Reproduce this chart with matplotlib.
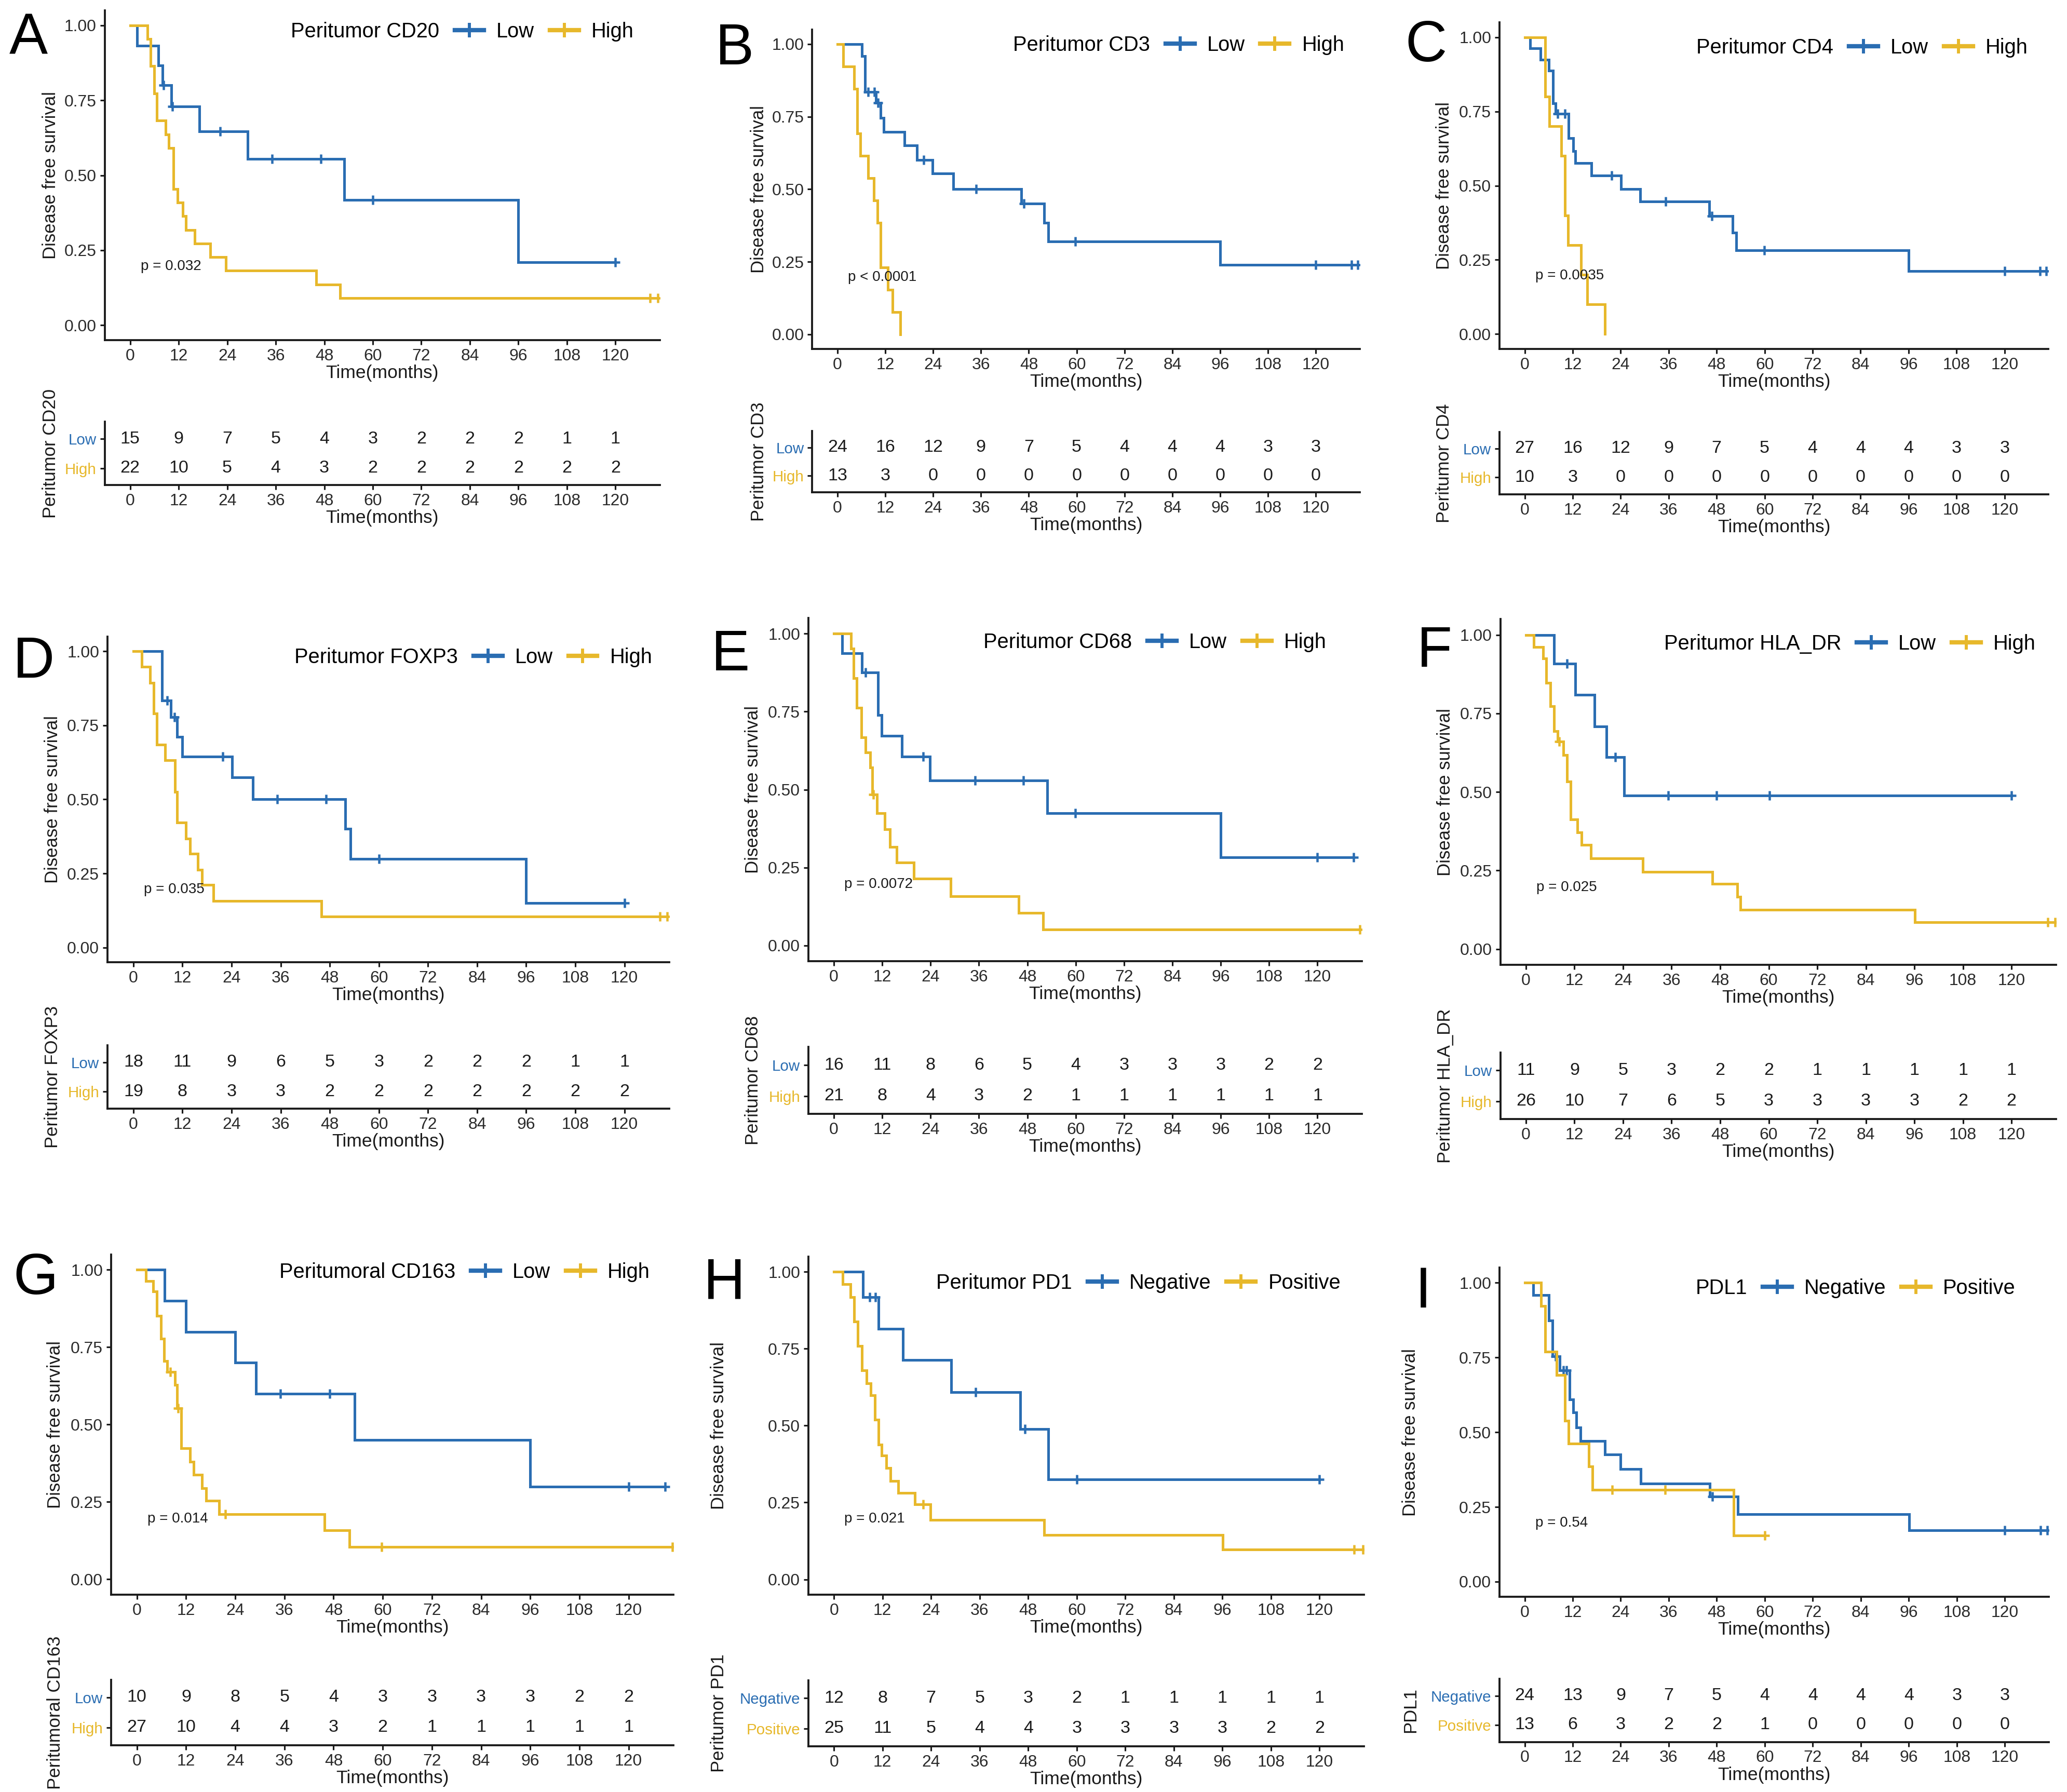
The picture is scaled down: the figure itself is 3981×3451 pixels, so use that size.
import numpy as np
import matplotlib.pyplot as plt
from matplotlib.lines import Line2D

plt.rcParams['font.family'] = ['Liberation Sans', 'DejaVu Sans']

BLUE = "#2A6DB2"
YELLOW = "#E7B82B"
INK = "#1a1a1a"

months = [0, 12, 24, 36, 48, 60, 72, 84, 96, 108, 120]

# ---- data: drop times, survival after drop, censor times, numbers at risk ----
A_low_t = [1.7, 7.0, 8.0, 10.2, 17.1, 29.1, 53.0, 96.0]
A_low_s = [0.933, 0.866, 0.800, 0.729, 0.647, 0.555, 0.417, 0.210]
A_low_c = [8.3, 10.4, 22.3, 35.1, 47.1, 60.0, 120.0]
A_high_t = [4.3, 5.1, 5.9, 6.6, 8.8, 9.6, 10.7, 11.7, 13.0, 13.8, 16.0, 19.8, 23.7, 46.0, 51.9]
A_high_s = [0.955, 0.864, 0.773, 0.682, 0.636, 0.591, 0.455, 0.409, 0.364, 0.318, 0.273, 0.227, 0.182, 0.136, 0.091]
A_high_c = [128.5, 130.5]
A_risk_low = [15, 9, 7, 5, 4, 3, 2, 2, 2, 1, 1]
A_risk_high = [22, 10, 5, 4, 3, 2, 2, 2, 2, 2, 2]

B_low_t = [6.1, 6.9, 9.7, 10.8, 11.6, 16.8, 19.9, 23.8, 29.0, 46.1, 51.8, 52.9, 96.0]
B_low_s = [0.958, 0.836, 0.797, 0.746, 0.698, 0.650, 0.600, 0.554, 0.500, 0.450, 0.385, 0.320, 0.239]
B_low_c = [7.7, 9.3, 10.2, 21.6, 34.8, 46.8, 59.7, 120.0, 128.9, 130.5]
B_high_t = [1.4, 4.2, 5.0, 5.75, 7.7, 9.1, 10.0, 10.8, 12.7, 13.8, 15.8]
B_high_s = [0.923, 0.846, 0.692, 0.615, 0.538, 0.462, 0.385, 0.231, 0.154, 0.077, 0.0]
B_high_c = []
B_risk_low = [24, 16, 12, 9, 7, 5, 4, 4, 4, 3, 3]
B_risk_high = [13, 3, 0, 0, 0, 0, 0, 0, 0, 0, 0]

C_low_t = [1.3, 4.0, 6.0, 7.1, 7.7, 11.0, 12.1, 12.6, 16.7, 24.1, 28.9, 46.1, 52.0, 52.9, 96.0]
C_low_s = [0.963, 0.925, 0.888, 0.777, 0.742, 0.660, 0.617, 0.576, 0.535, 0.488, 0.446, 0.397, 0.341, 0.283, 0.213]
C_low_c = [8.2, 10.1, 21.8, 35.2, 46.8, 59.9, 120.0, 128.9, 130.4]
C_high_t = [5.1, 6.2, 9.1, 10.1, 10.8, 14.1, 15.7, 20.1]
C_high_s = [0.8, 0.7, 0.6, 0.4, 0.3, 0.2, 0.1, 0.0]
C_high_c = []
C_risk_low = [27, 16, 12, 9, 7, 5, 4, 4, 4, 3, 3]
C_risk_high = [10, 3, 0, 0, 0, 0, 0, 0, 0, 0, 0]

D_low_t = [7.0, 9.2, 10.7, 12.0, 24.1, 29.2, 51.8, 53.1, 96.0]
D_low_s = [0.833, 0.778, 0.711, 0.644, 0.574, 0.500, 0.400, 0.300, 0.150]
D_low_c = [8.3, 10.1, 21.9, 35.2, 47.1, 60.0, 120.0]
D_high_t = [2.0, 4.1, 5.0, 5.7, 7.8, 10.2, 10.7, 12.8, 13.8, 15.7, 16.8, 19.6, 46.0]
D_high_s = [0.947, 0.894, 0.789, 0.684, 0.632, 0.526, 0.421, 0.368, 0.316, 0.263, 0.211, 0.158, 0.105]
D_high_c = [128.7, 130.5]
D_risk_low = [18, 11, 9, 6, 5, 3, 2, 2, 2, 1, 1]
D_risk_high = [19, 8, 3, 3, 2, 2, 2, 2, 2, 2, 2]

E_low_t = [2.0, 6.9, 10.9, 11.8, 16.9, 23.8, 53.0, 96.0]
E_low_s = [0.938, 0.875, 0.739, 0.673, 0.606, 0.530, 0.425, 0.283]
E_low_c = [7.9, 22.1, 35.0, 47.0, 59.9, 120.0, 129.0]
E_high_t = [4.2, 4.9, 5.7, 6.8, 7.9, 9.0, 9.5, 10.7, 12.6, 13.9, 15.6, 19.9, 29.0, 45.9, 51.9]
E_high_s = [0.952, 0.857, 0.762, 0.667, 0.619, 0.571, 0.484, 0.425, 0.373, 0.317, 0.266, 0.214, 0.158, 0.104, 0.052]
E_high_c = [9.8, 130.5]
E_risk_low = [16, 11, 8, 6, 5, 4, 3, 3, 3, 2, 2]
E_risk_high = [21, 8, 4, 3, 2, 1, 1, 1, 1, 1, 1]

F_low_t = [6.9, 12.2, 17.0, 19.9, 24.3]
F_low_s = [0.909, 0.809, 0.709, 0.610, 0.489]
F_low_c = [10.2, 22.1, 35.2, 47.1, 60.2, 120.0]
F_high_t = [2.0, 4.2, 5.0, 6.0, 6.9, 7.8, 9.3, 10.2, 11.0, 12.7, 13.8, 16.0, 28.9, 46.1, 52.2, 53.0, 96.1]
F_high_s = [0.962, 0.925, 0.848, 0.773, 0.693, 0.660, 0.618, 0.533, 0.412, 0.371, 0.331, 0.288, 0.246, 0.208, 0.166, 0.125, 0.086]
F_high_c = [8.2, 129.0, 130.8]
F_risk_low = [11, 9, 5, 3, 2, 2, 1, 1, 1, 1, 1]
F_risk_high = [26, 10, 7, 6, 5, 3, 3, 3, 3, 2, 2]

G_low_t = [6.8, 11.9, 24.0, 29.0, 53.1, 96.0]
G_low_s = [0.9, 0.8, 0.7, 0.6, 0.45, 0.3]
G_low_c = [35.0, 47.1, 120.0, 128.9]
G_high_t = [2.2, 4.0, 4.8, 5.8, 6.6, 7.4, 9.3, 9.8, 10.8, 12.9, 13.8, 15.9, 16.9, 20.1, 45.8, 51.9]
G_high_s = [0.963, 0.930, 0.852, 0.778, 0.706, 0.670, 0.628, 0.553, 0.423, 0.380, 0.338, 0.294, 0.254, 0.211, 0.159, 0.105]
G_high_c = [8.2, 10.1, 21.6, 59.7, 130.7]
G_risk_low = [10, 9, 8, 5, 4, 3, 3, 3, 3, 2, 2]
G_risk_high = [27, 10, 4, 4, 3, 2, 1, 1, 1, 1, 1]

H_low_t = [7.2, 11.0, 17.0, 29.0, 46.1, 53.0]
H_low_s = [0.917, 0.814, 0.713, 0.609, 0.489, 0.325]
H_low_c = [8.8, 10.3, 35.0, 47.2, 60.0, 120.0]
H_high_t = [2.2, 4.1, 5.0, 5.9, 6.9, 8.0, 9.1, 10.1, 11.0, 11.8, 12.9, 14.0, 15.9, 20.0, 23.8, 51.9, 96.1]
H_high_s = [0.960, 0.917, 0.839, 0.759, 0.680, 0.638, 0.598, 0.520, 0.439, 0.402, 0.362, 0.320, 0.282, 0.244, 0.193, 0.144, 0.098]
H_high_c = [22.1, 128.5, 130.7]
H_risk_low = [12, 8, 7, 5, 3, 2, 1, 1, 1, 1, 1]
H_risk_high = [25, 11, 5, 4, 4, 3, 3, 3, 3, 2, 2]

I_low_t = [2.1, 6.0, 6.9, 8.8, 11.2, 12.1, 12.9, 14.0, 20.1, 24.0, 29.0, 46.3, 53.3, 96.1]
I_low_s = [0.958, 0.873, 0.754, 0.707, 0.610, 0.566, 0.515, 0.470, 0.425, 0.377, 0.329, 0.284, 0.225, 0.172]
I_low_c = [7.7, 9.6, 10.5, 46.9, 120.0, 128.9, 130.6]
I_high_t = [4.1, 5.1, 8.0, 10.1, 11.0, 16.0, 16.9, 52.2]
I_high_s = [0.923, 0.769, 0.692, 0.538, 0.462, 0.385, 0.308, 0.154]
I_high_c = [21.8, 35.1, 60.0]
I_risk_low = [24, 13, 9, 7, 5, 4, 4, 4, 4, 3, 3]
I_risk_high = [13, 6, 3, 2, 2, 1, 0, 0, 0, 0, 0]

letters = ["A", "B", "C", "D", "E", "F", "G", "H", "I"]
titles = ["Peritumor CD20", "Peritumor CD3", "Peritumor CD4", "Peritumor FOXP3", "Peritumor CD68",
          "Peritumor HLA_DR", "Peritumoral CD163", "Peritumor PD1", "PDL1"]
levels = [("Low", "High")] * 7 + [("Negative", "Positive")] * 2
pvals = ["p = 0.032", "p < 0.0001", "p = 0.0035", "p = 0.035", "p = 0.0072",
         "p = 0.025", "p = 0.014", "p = 0.021", "p = 0.54"]

curves = [
    (A_low_t, A_low_s, A_low_c, A_high_t, A_high_s, A_high_c, A_risk_low, A_risk_high),
    (B_low_t, B_low_s, B_low_c, B_high_t, B_high_s, B_high_c, B_risk_low, B_risk_high),
    (C_low_t, C_low_s, C_low_c, C_high_t, C_high_s, C_high_c, C_risk_low, C_risk_high),
    (D_low_t, D_low_s, D_low_c, D_high_t, D_high_s, D_high_c, D_risk_low, D_risk_high),
    (E_low_t, E_low_s, E_low_c, E_high_t, E_high_s, E_high_c, E_risk_low, E_risk_high),
    (F_low_t, F_low_s, F_low_c, F_high_t, F_high_s, F_high_c, F_risk_low, F_risk_high),
    (G_low_t, G_low_s, G_low_c, G_high_t, G_high_s, G_high_c, G_risk_low, G_risk_high),
    (H_low_t, H_low_s, H_low_c, H_high_t, H_high_s, H_high_c, H_risk_low, H_risk_high),
    (I_low_t, I_low_s, I_low_c, I_high_t, I_high_s, I_high_c, I_risk_low, I_risk_high),
]

# layout in reference pixels of a 1568 x 1359 view
# km left, km right, km top, km bottom, risk top, risk bottom, ylabel x, legend right, legend y, letter x, letter y
layout = [
    (79.4, 500.6, 7.9, 258.0, 320.0, 368.0, 38.5, 480.7, 24.1, 7.0, 9.0),
    (616.2, 1031.5, 22.4, 264.6, 326.8, 373.5, 575.5, 1019.8, 34.3, 542.7, 17.0),
    (1137.5, 1554.0, 17.1, 264.6, 327.6, 374.8, 1095.4, 1538.4, 36.1, 1066.0, 14.5),
    (81.6, 507.8, 482.7, 729.9, 792.9, 840.9, 39.8, 494.8, 498.5, 9.8, 482.0),
    (613.3, 1033.0, 468.8, 729.0, 794.2, 845.0, 571.5, 1006.3, 487.2, 539.6, 476.6),
    (1138.2, 1559.7, 469.6, 731.7, 798.2, 848.8, 1096.4, 1544.2, 488.5, 1075.0, 474.0),
    (84.3, 511.0, 951.4, 1209.6, 1274.1, 1323.6, 41.8, 493.1, 964.8, 9.8, 949.5),
    (613.3, 1034.7, 953.0, 1209.6, 1274.7, 1324.4, 545.4, 1017.0, 973.1, 533.7, 953.5),
    (1137.5, 1554.2, 961.6, 1211.0, 1273.3, 1321.2, 1070.1, 1529.0, 977.2, 1073.6, 960.0),
]
VW, VH = 1568.0, 1359.2
XLIM = (-6.3, 131.0)

fig = plt.figure(figsize=(3981 / 250, 3451 / 250), dpi=250)


def rect(l, r, t, b):
    return [l / VW, 1 - b / VH, (r - l) / VW, (b - t) / VH]


def style(ax):
    for side in ["top", "right"]:
        ax.spines[side].set_visible(False)
    for side in ["left", "bottom"]:
        ax.spines[side].set_linewidth(1.1)
        ax.spines[side].set_color(INK)
    ax.tick_params(length=2.6, width=0.9, pad=2, labelsize=9.2, color=INK, labelcolor="#2a2a2a")
    ax.set_xlim(*XLIM)
    ax.set_xticks(months)


def draw_curve(ax, t, s, c, color):
    end = max([t[-1]] + list(c))
    x = [0] + list(t) + [end]
    y = [1.0] + list(s) + [s[-1]]
    ax.step(x, y, where="post", color=color, lw=1.45, solid_joinstyle="miter")
    if len(c):
        lvl = np.r_[1.0, s][np.searchsorted(t, c, side="right")]
        ax.plot(c, lvl, ls="none", marker="+", ms=5, mew=1.3, color=color)


for k in range(9):
    lo_t, lo_s, lo_c, hi_t, hi_s, hi_c, r_lo, r_hi = curves[k]
    kl, kr, kt, kb, rt, rb, ylx, lgx, lgy, ltx, lty = layout[k]

    # survival curves
    ax = fig.add_axes(rect(kl, kr, kt, kb))
    style(ax)
    ax.set_ylim(-0.05, 1.05)
    ax.set_yticks([0, 0.25, 0.5, 0.75, 1.0])
    ax.set_yticklabels(["0.00", "0.25", "0.50", "0.75", "1.00"])
    draw_curve(ax, lo_t, lo_s, lo_c, BLUE)
    draw_curve(ax, hi_t, hi_s, hi_c, YELLOW)
    ax.text(2.6, 0.196, pvals[k], fontsize=8, ha="left", va="center", color=INK)
    ax.set_xlabel("Time(months)", fontsize=10.2, labelpad=0.3, color=INK)
    ax.set_ylabel("Disease free survival", fontsize=10, va="center", color=INK)
    ax.yaxis.set_label_coords((ylx - kl) / (kr - kl), 0.5)

    handles = [Line2D([], [], color="none"),
               Line2D([], [], color=BLUE, lw=2.4, marker="+", ms=8, mew=1.7),
               Line2D([], [], color=YELLOW, lw=2.4, marker="+", ms=8, mew=1.7)]
    ax.legend(handles, [titles[k], levels[k][0], levels[k][1]], ncol=3, loc="center right",
              bbox_to_anchor=(lgx / VW, 1 - lgy / VH), bbox_transform=fig.transFigure,
              frameon=False, fontsize=11.5, handlelength=1.4, handletextpad=0.6,
              columnspacing=0.75, borderpad=0, borderaxespad=0)

    # number at risk table
    axr = fig.add_axes(rect(kl, kr, rt, rb))
    style(axr)
    axr.set_ylim(0.42, 2.58)
    axr.set_yticks([1, 2])
    axr.set_yticklabels([levels[k][1], levels[k][0]], fontsize=8.5)
    axr.get_yticklabels()[0].set_color(YELLOW)
    axr.get_yticklabels()[1].set_color(BLUE)
    for m, a, b in zip(months, r_lo, r_hi):
        axr.text(m, 2, str(a), fontsize=9.8, ha="center", va="center", color=INK)
        axr.text(m, 1, str(b), fontsize=9.8, ha="center", va="center", color=INK)
    axr.set_xlabel("Time(months)", fontsize=10.2, labelpad=0.3, color=INK)
    axr.set_ylabel(titles[k], fontsize=10, va="center", color=INK)
    axr.yaxis.set_label_coords((ylx - kl) / (kr - kl), 0.5)

    fig.text(ltx / VW, 1 - lty / VH, letters[k], fontsize=32, ha="left", va="top", color="black")

fig.savefig("out.png", dpi=250, facecolor="white")
